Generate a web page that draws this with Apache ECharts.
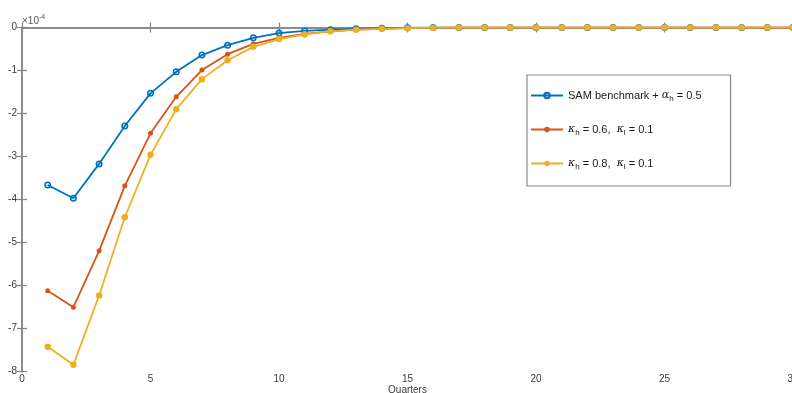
<!DOCTYPE html>
<html>
<head>
<meta charset="utf-8">
<script src="https://cdn.jsdelivr.net/npm/echarts@6/dist/echarts.min.js"></script>
<style>
  html, body { margin: 0; padding: 0; background: #fff; }
  #chart { width: 792px; height: 393px; }
</style>
</head>
<body>
<div id="chart"></div>
<script>
// Impulse responses, in units of 1e-4
const quarters = [1,2,3,4,5,6,7,8,9,10,11,12,13,14,15,16,17,18,19,20,21,22,23,24,25,26,27,28,29,30];
const samBenchmark = [-3.66,-3.97,-3.17,-2.29,-1.53,-1.03,-0.64,-0.41,-0.24,-0.13,-0.08,-0.05,-0.03,-0.015,-0.005,0,0,0,0,0,0,0,0,0,0,0,0,0,0,0];
const kappaH06 = [-6.12,-6.50,-5.19,-3.68,-2.46,-1.61,-0.99,-0.62,-0.38,-0.24,-0.15,-0.09,-0.05,-0.03,-0.015,-0.005,0,0,0,0,0,0,0,0,0,0,0,0,0,0];
const kappaH08 = [-7.42,-7.84,-6.23,-4.41,-2.96,-1.90,-1.20,-0.76,-0.45,-0.27,-0.16,-0.09,-0.05,-0.03,-0.015,-0.005,0,0,0,0,0,0,0,0,0,0,0,0,0,0];
const xTicks = [0, 5, 10, 15, 20, 25, 30];
const yTicks = [0, -1, -2, -3, -4, -5, -6, -7, -8];

const seriesNames = ['sam', 'k06', 'k08'];
const legendLabels = {
  sam: 'SAM benchmark + {g|α}{s|h} = 0.5',
  k06: '{g|κ}{s|h} = 0.6,  {g|κ}{s|l} = 0.1',
  k08: '{g|κ}{s|h} = 0.8,  {g|κ}{s|l} = 0.1'
};

const FONT = 'Liberation Sans, Arial, Helvetica, sans-serif';
const AXIS = '#858585';
const LABEL = '#3a3a3a';
const BLUE = '#0072BD', RED = '#D95319', YELLOW = '#EDB120';

const pairs = v => quarters.map((q, i) => [q, v[i]]);

const chart = echarts.init(document.getElementById('chart'), null, { renderer: 'canvas' });

const axisCommon = {
  type: 'value',
  axisLine: { show: true, lineStyle: { color: AXIS, width: 1.5 } },
  axisTick: { show: true, inside: true, length: 5, lineStyle: { color: AXIS, width: 1.2 } },
  splitLine: { show: false }
};

chart.setOption({
  animation: false,
  backgroundColor: '#ffffff',
  grid: { left: 22, top: 27.5, right: -1, bottom: 21.3, containLabel: false, outerBoundsMode: 'none' },
  xAxis: [
    Object.assign({}, axisCommon, {
      position: 'bottom', min: xTicks[0], max: xTicks[xTicks.length - 1], interval: 5,
      name: 'Quarters', nameLocation: 'middle', nameGap: 14, nameMoveOverlap: false,
      nameTextStyle: { fontFamily: FONT, fontSize: 10, color: LABEL },
      axisLabel: { show: true, margin: 3, fontFamily: FONT, fontSize: 10, color: LABEL }
    }),
    Object.assign({}, axisCommon, {
      position: 'top', min: xTicks[0], max: xTicks[xTicks.length - 1], interval: 5,
      axisLabel: { show: false }
    })
  ],
  yAxis: [
    Object.assign({}, axisCommon, {
      position: 'left', min: yTicks[yTicks.length - 1], max: yTicks[0], interval: 1,
      axisLabel: { show: true, margin: 5, fontFamily: FONT, fontSize: 10, color: LABEL }
    }),
    Object.assign({}, axisCommon, {
      position: 'right', min: yTicks[yTicks.length - 1], max: yTicks[0], interval: 1,
      axisLabel: { show: false }
    })
  ],
  legend: {
    orient: 'vertical',
    left: 527, top: 75,
    padding: [15, 29, 15, 3],
    itemGap: 21,
    itemWidth: 32, itemHeight: 7,
    borderColor: '#8a8a8a', borderWidth: 1.2,
    backgroundColor: '#ffffff',
    data: seriesNames,
    formatter: name => legendLabels[name],
    textStyle: {
      fontFamily: FONT, fontSize: 11, color: '#1a1a1a',
      rich: {
        g: { fontFamily: 'DejaVu Serif, serif', fontStyle: 'italic', fontSize: 11, color: '#1a1a1a' },
        s: { fontFamily: FONT, fontSize: 8, color: '#1a1a1a', padding: [7, 0, 0, 0] }
      }
    }
  },
  graphic: [{
    type: 'text', left: 22, top: 14,
    style: {
      text: '×10{e|-4}',
      fontFamily: FONT, fontSize: 10, fill: '#555',
      rich: { e: { fontFamily: FONT, fontSize: 7, fill: '#555', padding: [0, 0, 8, 0] } }
    }
  }],
  series: [
    {
      name: 'sam', type: 'line', data: pairs(samBenchmark),
      color: BLUE,
      lineStyle: { width: 1.8, color: BLUE },
      symbol: 'circle', symbolSize: 5.5,
      itemStyle: { color: 'rgba(0,114,189,0.15)', borderColor: BLUE, borderWidth: 1.5 },
      z: 2
    },
    {
      name: 'k06', type: 'line', data: pairs(kappaH06),
      color: RED,
      lineStyle: { width: 1.8, color: RED },
      symbol: 'circle', symbolSize: 5,
      itemStyle: { color: RED },
      z: 3
    },
    {
      name: 'k08', type: 'line', data: pairs(kappaH08),
      color: YELLOW,
      lineStyle: { width: 1.8, color: YELLOW },
      symbol: 'circle', symbolSize: 6.5,
      itemStyle: { color: YELLOW },
      z: 4
    }
  ]
});
</script>
</body>
</html>
